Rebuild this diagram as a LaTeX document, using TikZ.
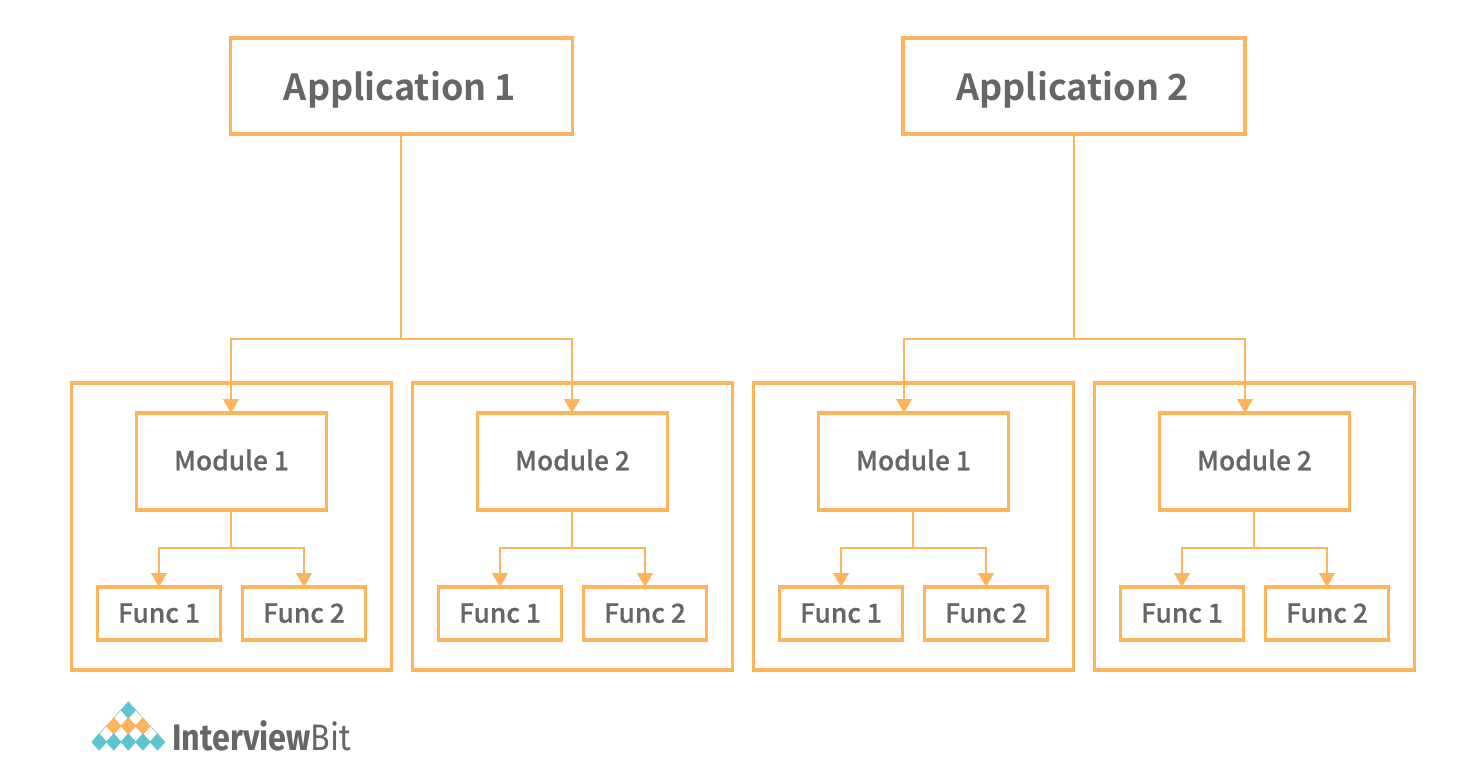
\documentclass[tikz,border=0pt]{standalone}
\usepackage{fontspec}
\setmainfont{Fira Sans}
\newfontfamily\labelfont[FakeBold=0.5]{Noto Sans CJK SC Medium}
\newfontfamily\titlefont{Noto Sans CJK SC Bold}
\usetikzlibrary{arrows.meta,positioning,calc}
\definecolor{boxline}{HTML}{FDB45C}
\definecolor{boxtext}{HTML}{666666}
\definecolor{logoteal}{HTML}{5CC6CE}
\def\px{0.02cm}
\tikzset{
  box/.style={draw=boxline,line width=3.3*\px,inner sep=0,outer sep=0,text=boxtext,align=center},
  appbox/.style={box,minimum width=342*\px,minimum height=96*\px,text depth=0pt,font=\fontsize{20.5}{24}\titlefont},
  groupbox/.style={box,minimum width=320*\px,minimum height=287*\px},
  modbox/.style={box,minimum width=190*\px,minimum height=97*\px,text depth=2pt,font=\fontsize{15}{18}\labelfont},
  funcbox/.style={box,minimum width=123*\px,minimum height=53*\px,text depth=0.6pt,font=\fontsize{15}{18}\labelfont},
  link/.style={draw=boxline,line width=1.3*\px},
  linkarrow/.style={link,-{Triangle[width=16*\px,length=14*\px]},boxline}
}

\begin{document}
\begin{tikzpicture}[x=0.02cm,y=-0.02cm]
  \useasboundingbox[fill=white] (0,0) rectangle (1464,782);

  % applications
  \node[appbox] (A1) at (401.5,86) {Application 1\hspace*{0.06cm}};
  \node[appbox] (A2) at (1074,86) {Application 2\hspace*{0.06cm}};
  \coordinate (J1) at (401,339);
  \coordinate (J2) at (1074,339);
  \draw[link] (J1 |- A1.south) -- (J1);
  \draw[link] (A2.south) -- (J2);

  % one group per module
  \foreach \n/\cx/\tx/\ap in {1/231.5/231/1,2/572.5/572/1,3/913.5/904/2,4/1254.5/1245/2}{
    \node[groupbox] (G\n) at (\cx,526.5) {};
    \node[modbox] (M\n) at (\cx,461.5) {Module \ifnum\n=1 1\else\ifnum\n=3 1\else 2\fi\fi};
    \node[funcbox] (F\n a) at (\cx-72.5,613.5) {Func 1};
    \node[funcbox] (F\n b) at (\cx+72.5,613.5) {Func 2};
    \coordinate (T\n) at (\tx,413);
    \coordinate (S\n) at (\cx-0.5,548);
    \draw[linkarrow] (J\ap) -| (T\n);
    \draw[link] (S\n |- M\n.south) -- (S\n);
    \draw[linkarrow] (S\n) -| (F\n a.north);
    \draw[linkarrow] (S\n) -| (F\n b.north);
  }

  % logo
  \foreach \r/\col/\edge in {1/white/gray!60,3/white/gray!60,0/logoteal/logoteal,2/boxline/boxline,4/logoteal/logoteal}{
    \foreach \i in {0,...,\r}{
      \filldraw[fill=\col,draw=\edge,line width=0.6*\px]
        ($(128.3,710)+(\i*14.6-\r*7.3,\r*8)$) +(-7.3,0) -- +(0,-8.2) -- +(7.3,0) -- +(0,8.2) -- cycle;
    }
  }
  \node[anchor=west,inner sep=0,text=boxtext,xscale=0.875,transform shape,font=\fontsize{21}{24}\selectfont] (L) at (172,735.5) {{\bfseries Interview}Bit};
\end{tikzpicture}
\end{document}
